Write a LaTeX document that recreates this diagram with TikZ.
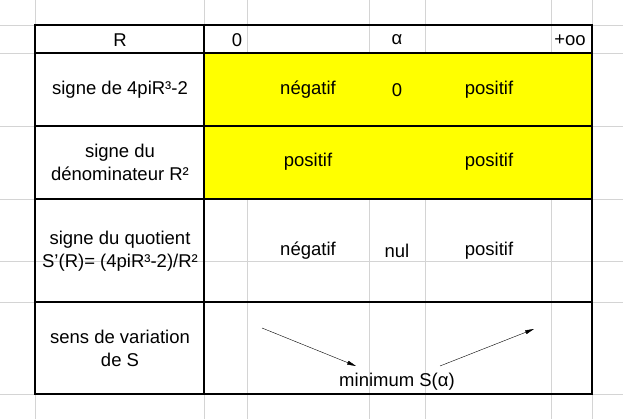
\documentclass[tikz,border=0pt]{standalone}
\usepackage{fontspec}
\setmainfont{Liberation Sans}
\usetikzlibrary{arrows.meta}
\tikzset{>={Stealth[inset=0pt,angle=25:9pt]}}
\definecolor{gridgray}{RGB}{212,212,212}
\definecolor{cellyellow}{RGB}{255,255,0}
\tikzset{cell/.style={font=\fontsize{18.5}{23}\selectfont,align=center,inner sep=0pt}}
\begin{document}
\begin{tikzpicture}[x=1pt,y=-1pt]
    \useasboundingbox (0,0) rectangle (623,419);
    \fill[white] (0,0) rectangle (623,419);
    % spreadsheet grid
    \foreach \gx in {35,204,247,369,425,551,592}
        \draw[gridgray] (\gx,0)--(\gx,419);
    \foreach \gy in {25,53,126,199,261,302,394}
        \draw[gridgray] (0,\gy)--(623,\gy);
    \fill[cellyellow] (204,53) rectangle (592,199);
    % table frame
    \draw[line width=1.5pt] (35,25) rectangle (592,394);
    \draw[line width=1.5pt] (204,25)--(204,394);
    \foreach \gy in {53,126,199,302}
        \draw[line width=1.5pt] (35,\gy)--(592,\gy);
    % header
    \node[cell] (hR) at (120,40) {R};
    \node[cell] (hzero) at (237,40) {0};
    \node[cell] (halpha) at (397,40) {α};
    \node[cell] (hinf) at (570,40) {+oo};
    % signe numerateur
    \node[cell] (numlab) at (120,90) {signe de 4piR³-2};
    \node[cell] (numneg) at (308,90) {négatif};
    \node[cell] (numzero) at (397,90) {0};
    \node[cell] (numpos) at (489,90) {positif};
    % signe denominateur
    \node[cell] (denlab) at (120,162) {signe du\\dénominateur R²};
    \node[cell] (denposa) at (308,162) {positif};
    \node[cell] (denposb) at (489,162) {positif};
    % signe quotient
    \node[cell] (quolab) at (120,251) {signe du quotient\\S'(R)= (4piR³-2)/R²};
    \node[cell] (quoneg) at (308,251) {négatif};
    \node[cell] (quonul) at (397,251) {nul};
    \node[cell] (quopos) at (489,251) {positif};
    % variations
    \node[cell] (varlab) at (120,348) {sens de variation\\de S};
    \node[cell] (varmin) at (397,382) {minimum S(α)};
    \coordinate (vstart) at (262,328);
    \coordinate (vdown) at (356,366);
    \coordinate (vup) at (440,366);
    \coordinate (vend) at (534,329);
    \draw[->] (vstart)--(vdown);
    \draw[->] (vup)--(vend);
\end{tikzpicture}
\end{document}
